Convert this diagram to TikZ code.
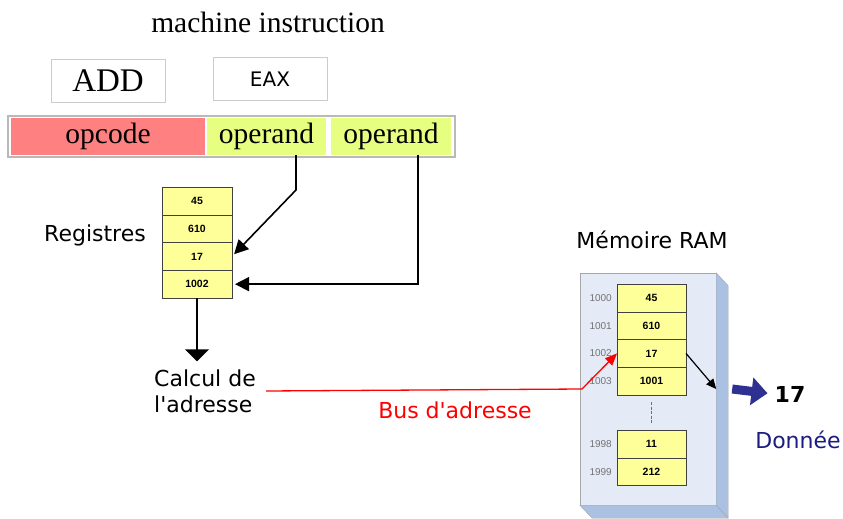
\documentclass[tikz,border=0pt]{standalone}
\usepackage{fontspec}
\setmainfont{Liberation Serif}
\newfontfamily\labelsans{DejaVu Sans}
\newfontfamily\arialfont{Liberation Sans}
\usetikzlibrary{positioning, arrows.meta}

\definecolor{opcodered}{HTML}{FF8080}
\definecolor{operandgreen}{HTML}{E6FF80}
\definecolor{cellyellow}{HTML}{FFFF99}
\definecolor{ramface}{HTML}{E4EAF6}
\definecolor{ramside}{HTML}{ABC1E2}
\definecolor{arrowblue}{HTML}{2E3192}
\definecolor{textblue}{HTML}{1C1C80}
\definecolor{dotblue}{HTML}{3F73D8}

\newcommand{\bigserif}{\fontsize{29.5}{32}\selectfont}
\newcommand{\lblfont}{\labelsans\fontsize{22}{26}\selectfont}
\newcommand{\cellfont}{\arialfont\bfseries\fontsize{10.5}{12}\selectfont}
\newcommand{\addrfont}{\arialfont\fontsize{10}{12}\selectfont}

\begin{document}
\begin{tikzpicture}[x=1pt, y=-1pt, node distance=0pt]
    \tikzstyle{wordbox} = [rectangle,draw=gray!40,line width=1pt,minimum width=114,minimum height=42]
    \tikzstyle{field} = [rectangle,minimum height=37,inner sep=0pt,font=\bigserif]
    \tikzstyle{cell} = [rectangle,draw=black!75,fill=cellyellow,minimum width=70,minimum height=27.75,outer sep=0pt,font=\cellfont]
    \tikzstyle{addr} = [text=gray!90!black,font=\addrfont,inner sep=0pt]
    \tikzstyle{regarrow} = [line width=1.6pt,-{Triangle[length=14pt,width=14pt]},shorten >=3pt]

    \useasboundingbox (0,0) rectangle (843,519);

    % instruction
    \node (title) at (268,22) {\fontsize{29.5}{32}\selectfont machine instruction};
    \node (add) [wordbox,font=\fontsize{33}{36}\selectfont] at (108,81) {ADD};
    \node (eax) [wordbox,font=\labelsans\fontsize{20}{24}\selectfont] at (270,79) {EAX};

    \node (instr) [rectangle,draw=gray!55,line width=1.2pt,minimum width=447,minimum height=41] at (231.5,136.5) {};
    \node (opcode) [field,fill=opcodered,minimum width=194] at (108,136.5) {opcode};
    \node (op1) [field,fill=operandgreen,minimum width=119] at (266.5,136.5) {operand};
    \node (op2) [field,fill=operandgreen,minimum width=120] at (391,136.5) {operand};

    % registres
    \node (reg1) [cell] at (197,200.9) {45};
    \node (reg2) [cell,below=of reg1] {610};
    \node (reg3) [cell,below=of reg2] {17};
    \node (reg4) [cell,below=of reg3] {1002};
    \node (registres) [font=\lblfont] at (95,235) {Registres};

    \coordinate (bend1) at (296,190);
    \draw [regarrow] ([xshift=29.5pt]op1.south) -- (bend1) -- (reg3.east);
    \draw [regarrow] ([xshift=27pt]op2.south) |- (reg4.east);

    \node (calc) [font=\lblfont,align=left,inner sep=2pt] at (205,391) {Calcul de\\l'adresse};
    \draw [line width=1.6pt,-{Triangle[length=12pt,width=24pt]},shorten >=6pt] (reg4.south) -- (reg4.south |- calc.north);

    % memoire
    \node (ramtitle) [font=\lblfont] at (652,240) {Mémoire RAM};
    \node (ram) [rectangle,draw=gray!70,fill=ramface,minimum width=136,minimum height=232] at (648,389) {};
    \draw [draw=gray!70,fill=ramside] (ram.north east) -- ++(12,13) -- ++(0,232) -- (ram.south east) -- cycle;
    \draw [draw=gray!70,fill=ramside] (ram.south west) -- (ram.south east) -- ++(12,13) -- ++(-136,0) -- cycle;

    \node (ram1) [cell,minimum width=69] at (651.5,297.9) {45};
    \node (ram2) [cell,minimum width=69,below=of ram1] {610};
    \node (ram3) [cell,minimum width=69,below=of ram2] {17};
    \node (ram4) [cell,minimum width=69,below=of ram3] {1001};
    \node (ram5) [cell,minimum width=69] at (651.5,444) {11};
    \node (ram6) [cell,minimum width=69,below=of ram5] {212};

    \node (a1000) [addr,left=5pt of ram1] {1000};
    \node (a1001) [addr,left=5pt of ram2] {1001};
    \node (a1002) [addr,left=5pt of ram3] {1002};
    \node (a1003) [addr,left=5pt of ram4] {1003};
    \node (a1998) [addr,left=5pt of ram5] {1998};
    \node (a1999) [addr,left=5pt of ram6] {1999};

    \draw [dotblue,line width=1.6pt,dash pattern=on 3pt off 1.5pt] ([yshift=-7pt]ram4.south) -- ([yshift=7pt]ram5.north);

    % bus
    \coordinate (busbend) at (582,389);
    \draw [red,line width=1.3pt,-{Triangle[length=12pt,width=10pt]}] ([xshift=8pt]calc.east) -- (busbend) -- (ram3.west);
    \node (bus) [red,font=\lblfont] at (455,410) {Bus d'adresse};

    % donnee
    \draw [line width=1.2pt,-{Triangle[length=10pt,width=9pt]}] (ram3.east) -- (ram.east);
    \node (value) [font=\labelsans\bfseries\fontsize{22}{26}\selectfont,inner sep=1pt] at (790,394) {17};
    \draw [arrowblue,line width=9pt,-{Triangle[length=16pt,width=27pt]},shorten >=6pt] ([xshift=16pt]ram.east) -- (value.west);
    \node (donnee) [text=textblue,font=\lblfont] at (798,440) {Donnée};
\end{tikzpicture}
\end{document}
